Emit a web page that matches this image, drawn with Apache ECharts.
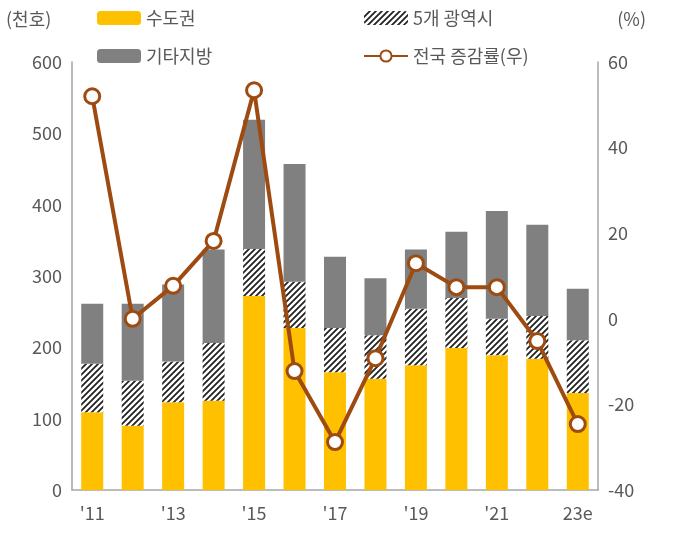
<!DOCTYPE html>
<html><head><meta charset="utf-8">
<script src="https://cdn.jsdelivr.net/npm/echarts@6/dist/echarts.min.js"></script>
<style>body{margin:0}#c{width:676px;height:539px}</style></head>
<body><div id="c"></div>
<script>
// 연도 및 값 (천호, %)
const years = ["'11","'12","'13","'14","'15","'16","'17","'18","'19","'20","'21","'22","23e"];
const capital = [109, 90, 123, 125, 272, 227, 165, 156, 175, 199, 189, 184, 136];
const metro = [68, 63, 57, 81, 66, 65, 62, 61, 79, 70, 51, 60, 74];
const others = [84, 108, 108, 131, 181, 165, 100, 80, 83, 93, 151, 128, 72];
const growth = [52, 0, 7.7, 18.2, 53.4, -12.2, -28.8, -9.2, 13, 7.4, 7.4, -5.2, -24.6];

// 빗금 패턴
const pc = document.createElement('canvas');
pc.width = 6; pc.height = 6;
const g = pc.getContext('2d');
g.fillStyle = '#fff'; g.fillRect(0, 0, 6, 6);
g.strokeStyle = '#222'; g.lineWidth = 1.8;
g.beginPath();
g.moveTo(0, 6); g.lineTo(6, 0);
g.moveTo(-3, 3); g.lineTo(3, -3);
g.moveTo(3, 9); g.lineTo(9, 3);
g.stroke();
const hatch = { image: pc, repeat: 'repeat' };

const txt = { color: '#595959', fontSize: 18, fontFamily: 'Noto Sans CJK KR' };
const chart = echarts.init(document.getElementById('c'));
chart.setOption({
  animation: false,
  textStyle: txt,
  grid: { left: 72, right: 78, top: 62, bottom: 49 },
  legend: [
    { left: 92, top: 4, orient: 'vertical', itemGap: 20, itemWidth: 44, itemHeight: 14, textStyle: txt,
      data: ['수도권', '기타지방'] },
    { left: 358, top: 4, orient: 'vertical', itemGap: 20, itemWidth: 44, itemHeight: 14, textStyle: txt,
      data: ['5개 광역시', '전국 증감률(우)'] }
  ],
  graphic: [
    { type: 'text', left: 6, top: 10, style: { text: '(천호)', fill: '#595959', font: '18px "Noto Sans CJK KR"' } },
    { type: 'text', right: 30, top: 10, style: { text: '(%)', fill: '#595959', font: '18px "Noto Sans CJK KR"' } }
  ],
  xAxis: {
    type: 'category', data: years,
    axisLine: { lineStyle: { color: '#a6a6a6', width: 1.5 } },
    axisTick: { show: false },
    axisLabel: { interval: 1, ...txt, margin: 14 }
  },
  yAxis: [
    { type: 'value', min: 0, max: 600, interval: 100, splitLine: { show: false },
      axisLine: { show: true, lineStyle: { color: '#a6a6a6', width: 1.5 } },
      axisLabel: { ...txt, margin: 10 } },
    { type: 'value', min: -40, max: 60, interval: 20, splitLine: { show: false },
      axisLine: { show: true, lineStyle: { color: '#a6a6a6', width: 1.5 } },
      axisLabel: { ...txt, margin: 10 } }
  ],
  series: [
    { name: '수도권', type: 'bar', stack: 'a', barWidth: 22, data: capital, itemStyle: { color: '#ffc000' } },
    { name: '5개 광역시', type: 'bar', stack: 'a', data: metro, itemStyle: { color: hatch } },
    { name: '기타지방', type: 'bar', stack: 'a', data: others, itemStyle: { color: '#808080' } },
    { name: '전국 증감률(우)', type: 'line', yAxisIndex: 1, data: growth,
      symbol: 'circle', symbolSize: 15,
      lineStyle: { color: '#9e4b12', width: 4 },
      itemStyle: { color: '#fff', borderColor: '#9e4b12', borderWidth: 3 } }
  ]
});
</script></body></html>
